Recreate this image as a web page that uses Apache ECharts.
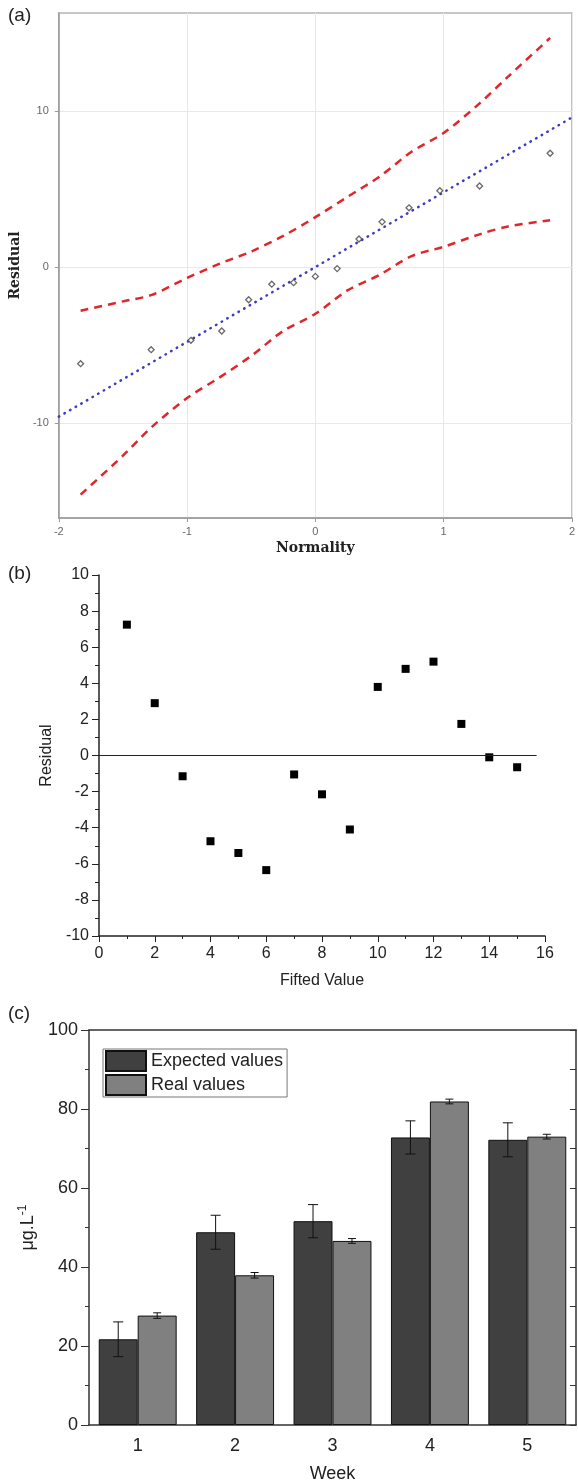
<!DOCTYPE html>
<html>
<head>
<meta charset="utf-8">
<script src="https://cdn.jsdelivr.net/npm/echarts@6/dist/echarts.min.js"></script>
<style>
  html, body { margin: 0; padding: 0; background: #fff; }
  #main { width: 578px; height: 1484px; }
</style>
</head>
<body>
<div id="main"></div>
<script>
// (a) normal probability plot of residuals
var normQuantiles = [-1.83, -1.28, -0.97, -0.73, -0.52, -0.34, -0.17, 0, 0.17, 0.34, 0.52, 0.73, 0.97, 1.28, 1.83];
var sortedResiduals = [-6.2, -5.3, -4.7, -4.1, -2.1, -1.1, -1.0, -0.6, -0.1, 1.8, 2.9, 3.8, 4.9, 5.2, 7.3];
var fitX = [-2, 2];
var fitY = [-9.6, 9.6];
var bandX = [-1.83, -1.5, -1.28, -1, -0.75, -0.5, -0.25, 0, 0.25, 0.5, 0.75, 1, 1.28, 1.5, 1.83];
var upperBand = [-2.8, -2.2, -1.8, -0.7, 0.2, 1.0, 2.0, 3.2, 4.5, 5.8, 7.4, 8.6, 10.5, 12.2, 14.7];
var lowerBand = [-14.6, -12.1, -10.3, -8.4, -7.1, -5.7, -4.1, -3.0, -1.5, -0.5, 0.7, 1.3, 2.1, 2.6, 3.0];
var ticksA_y = [-10, 0, 10];

// (b) residual vs fitted value
var fittedX = [1, 2, 3, 4, 5, 6, 7, 8, 9, 10, 11, 12, 13, 14, 15];
var residualB = [7.25, 2.9, -1.15, -4.75, -5.4, -6.35, -1.05, -2.15, -4.1, 3.8, 4.8, 5.2, 1.75, -0.1, -0.65];
var zeroLineX = [0, 15.7];

// (c) expected vs real values per week
var weeks = ['1', '2', '3', '4', '5'];
var expected = [21.7, 48.8, 51.6, 72.8, 72.2];
var expectedErr = [4.4, 4.3, 4.2, 4.2, 4.3];
var real = [27.7, 37.9, 46.6, 81.9, 73.0];
var realErr = [0.7, 0.7, 0.6, 0.6, 0.6];

var SANS = 'Liberation Sans, Arial, sans-serif';
var SERIF = 'DejaVu Serif, serif';

function pairs(xs, ys) {
	return xs.map(function (x, i) { return [x, ys[i]]; });
}

function errorBar(shift, cap) {
	return function (params, api) {
		var idx = api.value(0);
		var hi = api.coord([idx, api.value(1) + api.value(2)]);
		var lo = api.coord([idx, api.value(1) - api.value(2)]);
		var band = api.size([1, 0])[0];
		var x = hi[0] + band * shift;
		var style = { stroke: '#111', lineWidth: 1 };
		return {
			type : 'group',
			children : [
				{ type : 'line', shape : { x1 : x, y1 : hi[1], x2 : x, y2 : lo[1] }, style : style },
				{ type : 'line', shape : { x1 : x - cap, y1 : hi[1], x2 : x + cap, y2 : hi[1] }, style : style },
				{ type : 'line', shape : { x1 : x - cap, y1 : lo[1], x2 : x + cap, y2 : lo[1] }, style : style }
			]
		};
	};
}

var chart = echarts.init(document.getElementById('main'), null, { renderer : 'canvas' });

var panelTitle = function (t, top) {
	return {
		text : t, left : 8, top : top, padding : 0,
		textStyle : { fontFamily : SANS, fontSize : 19, fontWeight : 'normal', color : '#222' }
	};
};

var option = {
	animation : false,
	backgroundColor : '#fff',
	title : [ panelTitle('(a)', 6), panelTitle('(b)', 564), panelTitle('(c)', 1004) ],
	legend : {
		data : [ 'Expected values', 'Real values' ],
		orient : 'vertical',
		left : 103,
		top : 1049,
		icon : 'rect',
		itemWidth : 40,
		itemHeight : 20,
		itemGap : 2,
		padding : [ 1, 4, 1, 2 ],
		borderColor : '#777',
		borderWidth : 1,
		textStyle : { fontFamily : SANS, fontSize : 18, color : '#222' }
	},
	grid : [
		{ left : 56, top : 13, width : 519, height : 505, show : true, borderColor : '#b5b5b5', borderWidth : 1.5 },
		{ left : 99, top : 575, width : 446, height : 361 },
		{ left : 89, top : 1030, width : 487, height : 396 }
	],
	xAxis : [
		{
			gridIndex : 0, type : 'value', min : -2, max : 2, interval : 1,
			name : 'Normality', nameLocation : 'middle', nameGap : 23,
			nameTextStyle : { fontFamily : SERIF, fontWeight : 'bold', fontSize : 14, color : '#222' },
			axisLine : { onZero : false, lineStyle : { color : '#999', width : 1.5 } },
			axisTick : { length : 4, lineStyle : { color : '#999' } },
			axisLabel : { fontFamily : SANS, fontSize : 11, color : '#666', margin : 8 },
			splitLine : { show : true, lineStyle : { color : '#e8e8e8' } }
		},
		{
			gridIndex : 1, type : 'value', min : 0, max : 16, interval : 2,
			name : 'Fifted Value', nameLocation : 'middle', nameGap : 37,
			nameTextStyle : { fontFamily : SANS, fontSize : 16, color : '#222' },
			axisLine : { onZero : false, lineStyle : { color : '#222', width : 1.5 } },
			axisTick : { length : 6, lineStyle : { color : '#222' } },
			minorTick : { show : true, splitNumber : 2, length : 3, lineStyle : { color : '#222' } },
			axisLabel : { fontFamily : SANS, fontSize : 16, color : '#222', margin : 10 },
			splitLine : { show : false }
		},
		{
			gridIndex : 2, type : 'category', data : weeks, position : 'bottom',
			name : 'Week', nameLocation : 'middle', nameGap : 40,
			nameTextStyle : { fontFamily : SANS, fontSize : 18, color : '#222' },
			axisLine : { lineStyle : { color : '#333', width : 1.5 } },
			axisTick : { alignWithLabel : true, length : 7, lineStyle : { color : '#333' } },
			axisLabel : { fontFamily : SANS, fontSize : 18, color : '#222', margin : 12 }
		},
		{
			gridIndex : 2, type : 'category', data : weeks, position : 'bottom',
			axisLine : { show : false },
			axisTick : { length : 4, lineStyle : { color : '#333' } },
			axisLabel : { show : false }
		},
		{
			gridIndex : 2, type : 'category', data : weeks, position : 'top',
			axisLine : { lineStyle : { color : '#333', width : 1.5 } },
			axisTick : { alignWithLabel : true, inside : true, length : 7, lineStyle : { color : '#333' } },
			axisLabel : { show : false }
		},
		{
			gridIndex : 2, type : 'category', data : weeks, position : 'top',
			axisLine : { show : false },
			axisTick : { inside : true, length : 4, lineStyle : { color : '#333' } },
			axisLabel : { show : false }
		}
	],
	yAxis : [
		{
			gridIndex : 0, type : 'value', min : -16.1, max : 16.3,
			name : 'Residual', nameLocation : 'middle', nameGap : 30,
			nameTextStyle : { fontFamily : SERIF, fontWeight : 'bold', fontSize : 14, color : '#222' },
			axisLine : { show : true, onZero : false, lineStyle : { color : '#999', width : 1.5 } },
			axisTick : { show : true, length : 4, customValues : ticksA_y, lineStyle : { color : '#999' } },
			axisLabel : { fontFamily : SANS, fontSize : 11, color : '#666', margin : 10, customValues : ticksA_y },
			splitLine : { show : false }
		},
		{
			gridIndex : 1, type : 'value', min : -10, max : 10, interval : 2,
			name : 'Residual', nameLocation : 'middle', nameGap : 44,
			nameTextStyle : { fontFamily : SANS, fontSize : 16, color : '#222' },
			axisLine : { show : true, onZero : false, lineStyle : { color : '#222', width : 1.5 } },
			axisTick : { show : true, length : 7, lineStyle : { color : '#222' } },
			minorTick : { show : true, splitNumber : 2, length : 4, lineStyle : { color : '#222' } },
			axisLabel : { fontFamily : SANS, fontSize : 16, color : '#222', margin : 10 },
			splitLine : { show : false }
		},
		{
			gridIndex : 2, type : 'value', min : 0, max : 100, interval : 20,
			name : '{a|μg.L}{s|-1}', nameLocation : 'middle', nameGap : 46,
			nameTextStyle : {
				rich : {
					a : { fontFamily : SANS, fontSize : 18, color : '#222', lineHeight : 22 },
					s : { fontFamily : SANS, fontSize : 12, color : '#222', verticalAlign : 'top', lineHeight : 22 }
				}
			},
			axisLine : { show : true, lineStyle : { color : '#333', width : 1.5 } },
			axisTick : { show : true, length : 8, lineStyle : { color : '#333' } },
			minorTick : { show : true, splitNumber : 2, length : 4, lineStyle : { color : '#333' } },
			axisLabel : { fontFamily : SANS, fontSize : 18, color : '#222', margin : 11 },
			splitLine : { show : false }
		},
		{
			gridIndex : 2, type : 'value', min : 0, max : 100, interval : 10, position : 'right',
			axisLine : { show : true, lineStyle : { color : '#333', width : 1.5 } },
			axisTick : { show : true, inside : true, length : 6, lineStyle : { color : '#333' } },
			axisLabel : { show : false },
			splitLine : { show : false }
		}
	],
	series : [
		// (a)
		{
			name : 'upper', type : 'line', xAxisIndex : 0, yAxisIndex : 0,
			data : pairs(bandX, upperBand), smooth : 0.3, showSymbol : false,
			lineStyle : { color : '#e0262b', width : 2.5, type : [ 8, 6 ] },
			markLine : {
				silent : true, symbol : [ 'none', 'none' ], label : { show : false }, z : 0,
				lineStyle : { color : '#e8e8e8', type : 'solid', width : 1 },
				data : ticksA_y.map(function (v) { return { yAxis : v }; })
			}
		},
		{
			name : 'lower', type : 'line', xAxisIndex : 0, yAxisIndex : 0,
			data : pairs(bandX, lowerBand), smooth : 0.3, showSymbol : false,
			lineStyle : { color : '#e0262b', width : 2.5, type : [ 8, 6 ] }
		},
		{
			name : 'fit', type : 'line', xAxisIndex : 0, yAxisIndex : 0,
			data : pairs(fitX, fitY), showSymbol : false,
			lineStyle : { color : '#3b3bc4', width : 2.5, type : [ 0.5, 6 ], cap : 'round' }
		},
		{
			name : 'residuals', type : 'scatter', xAxisIndex : 0, yAxisIndex : 0,
			data : pairs(normQuantiles, sortedResiduals),
			symbol : 'diamond', symbolSize : 6,
			itemStyle : { color : '#fff', borderColor : '#444', borderWidth : 1.3 },
			z : 5
		},
		// (b)
		{
			name : 'zero', type : 'line', xAxisIndex : 1, yAxisIndex : 1,
			data : pairs(zeroLineX, [ 0, 0 ]), showSymbol : false,
			lineStyle : { color : '#222', width : 1 }
		},
		{
			name : 'residualB', type : 'scatter', xAxisIndex : 1, yAxisIndex : 1,
			data : pairs(fittedX, residualB),
			symbol : 'rect', symbolSize : 8,
			itemStyle : { color : '#000', opacity : 1 }
		},
		// (c)
		{
			name : 'Expected values', type : 'bar', xAxisIndex : 2, yAxisIndex : 2,
			data : expected, barGap : '0%', barCategoryGap : '20%',
			itemStyle : { color : '#404040', borderColor : '#111', borderWidth : 1 }
		},
		{
			name : 'Real values', type : 'bar', xAxisIndex : 2, yAxisIndex : 2,
			data : real, barGap : '0%', barCategoryGap : '20%',
			itemStyle : { color : '#808080', borderColor : '#111', borderWidth : 1 }
		},
		{
			name : 'expectedErr', type : 'custom', xAxisIndex : 2, yAxisIndex : 2,
			renderItem : errorBar(-0.2, 5),
			data : weeks.map(function (w, i) { return [ i, expected[i], expectedErr[i] ]; }),
			z : 10
		},
		{
			name : 'realErr', type : 'custom', xAxisIndex : 2, yAxisIndex : 2,
			renderItem : errorBar(0.2, 4),
			data : weeks.map(function (w, i) { return [ i, real[i], realErr[i] ]; }),
			z : 10
		}
	]
};

chart.setOption(option, true);
</script>
</body>
</html>
